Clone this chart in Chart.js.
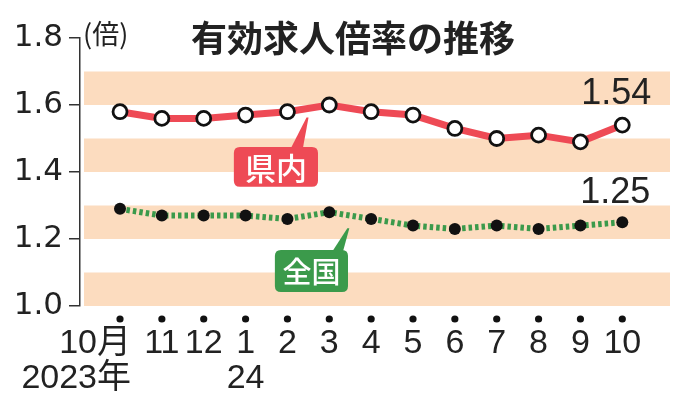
<!DOCTYPE html>
<html><head><meta charset="utf-8">
<script src="https://cdn.jsdelivr.net/npm/chart.js@4/dist/chart.umd.min.js"></script>
<style>html,body{margin:0;padding:0;background:#fff;overflow:hidden}canvas{display:block}</style>
</head><body>
<canvas id="c" width="684" height="400"></canvas>
<script>
// ---- data ----
const months = ['10月','11','12','1','2','3','4','5','6','7','8','9','10'];
const years  = ['2023年','','','24','','','','','','','','',''];
const prefecture = [1.58,1.56,1.56,1.57,1.58,1.60,1.58,1.57,1.53,1.50,1.51,1.49,1.54];
const national   = [1.29,1.27,1.27,1.27,1.26,1.28,1.26,1.24,1.23,1.24,1.23,1.24,1.25];
const seriesNames = ['県内','全国'];
const yMin = 1.0, yMax = 1.8;
const bands = [[1.0,1.1],[1.2,1.3],[1.4,1.5],[1.6,1.7]];
const titleText = '有効求人倍率の推移';
const unitText = '(倍)';

const RED = '#ee4a55', GREEN = '#3b9a4b', BAND = '#fcdcbf', INK = '#222';
const CJK = '"Noto Sans CJK JP"';

// callouts in data coordinates (index, value)
const callouts = [
  {text: seriesNames[0], color: RED, x0: 2.72, x1: 4.73, yTop: 1.475, yBot: 1.356,
   base0: 4.085, base1: 4.37, tipX: 4.48, tipY: 1.563, font: '500 31px ' + CJK},
  {text: seriesNames[1], color: GREEN, x0: 3.70, x1: 5.447, yTop: 1.167, yBot: 1.042,
   base0: 5.08, base1: 5.33, tipX: 5.455, tipY: 1.232, font: '500 29px ' + CJK}
];

function rr(ctx, x, y, w, h, r) {
  ctx.beginPath();
  ctx.moveTo(x + r, y);
  ctx.lineTo(x + w - r, y); ctx.quadraticCurveTo(x + w, y, x + w, y + r);
  ctx.lineTo(x + w, y + h - r); ctx.quadraticCurveTo(x + w, y + h, x + w - r, y + h);
  ctx.lineTo(x + r, y + h); ctx.quadraticCurveTo(x, y + h, x, y + h - r);
  ctx.lineTo(x, y + r); ctx.quadraticCurveTo(x, y, x + r, y);
  ctx.closePath();
}

const deco = {
  id: 'deco',
  beforeDatasetsDraw(chart) {
    const {ctx, chartArea: ca, scales: {y}} = chart;
    ctx.save();
    ctx.fillStyle = BAND;
    bands.forEach(([a, b]) => {
      const t = y.getPixelForValue(b), btm = y.getPixelForValue(a);
      ctx.fillRect(ca.left + 4, t, ca.right - ca.left - 4, btm - t);
    });
    ctx.restore();
  },
  afterDraw(chart) {
    const {ctx, chartArea: ca, scales: {x, y}} = chart;
    ctx.save();
    // title & unit
    ctx.fillStyle = INK;
    ctx.textBaseline = 'middle';
    ctx.textAlign = 'center';
    ctx.font = 'bold 36px ' + CJK;
    ctx.fillText(titleText, 353, 38);
    ctx.textAlign = 'left';
    ctx.font = '27px ' + CJK;
    ctx.fillText(unitText, 83, 34);

    // x dots and labels
    months.forEach((m, i) => {
      const px = x.getPixelForValue(i);
      ctx.beginPath();
      ctx.arc(px, 319, 3.6, 0, Math.PI * 2);
      ctx.fillStyle = '#111';
      ctx.fill();
      ctx.fillStyle = INK;
      ctx.font = '34px "Liberation Sans", Arial, ' + CJK;
      ctx.textBaseline = 'middle';
      if (i === 0) { ctx.textAlign = 'right'; ctx.fillText(m, px + 11, 344); if (years[i]) ctx.fillText(years[i], px + 11, 379); }
      else { ctx.textAlign = 'center'; ctx.fillText(m, px, 344); if (years[i]) ctx.fillText(years[i], px, 379); }
    });

    // value labels at last points
    ctx.font = '36px "Liberation Sans", Arial';
    ctx.textAlign = 'center';
    ctx.fillStyle = INK;
    const m0 = chart.getDatasetMeta(0).data, m1 = chart.getDatasetMeta(1).data;
    const p0 = m0[m0.length - 1], p1 = m1[m1.length - 1];
    ctx.fillText(prefecture[prefecture.length - 1].toFixed(2), p0.x - 6, p0.y - 31);
    ctx.fillText(national[national.length - 1].toFixed(2), p1.x - 7, p1.y - 29);

    // callouts
    callouts.forEach(c => {
      const L = x.getPixelForValue(c.x0), R = x.getPixelForValue(c.x1);
      const T = y.getPixelForValue(c.yTop), B = y.getPixelForValue(c.yBot);
      ctx.fillStyle = c.color;
      rr(ctx, L, T, R - L, B - T, 6);
      ctx.fill();
      ctx.beginPath();
      ctx.moveTo(x.getPixelForValue(c.base0), T + 1);
      ctx.lineTo(x.getPixelForValue(c.tipX) - 1, y.getPixelForValue(c.tipY));
      ctx.lineTo(x.getPixelForValue(c.tipX) + 1, y.getPixelForValue(c.tipY));
      ctx.lineTo(x.getPixelForValue(c.base1), T + 1);
      ctx.closePath();
      ctx.fill();
      ctx.fillStyle = '#fff';
      ctx.font = c.font;
      ctx.textAlign = 'center';
      ctx.textBaseline = 'middle';
      ctx.fillText(c.text, (L + R) / 2, (T + B) / 2 + 1);
    });
    ctx.restore();
  }
};

new Chart(document.getElementById('c'), {
  type: 'line',
  data: {
    datasets: [
      {label: seriesNames[0], data: prefecture.map((v, i) => ({x: i, y: v})),
       borderColor: RED, borderWidth: 7, pointRadius: 7, pointBorderWidth: 2.8,
       pointBackgroundColor: '#fff', pointBorderColor: '#111', tension: 0},
      {label: seriesNames[1], data: national.map((v, i) => ({x: i, y: v})),
       borderColor: GREEN, borderWidth: 6, borderDash: [3.5, 3], pointRadius: 6, pointBorderWidth: 0,
       pointBackgroundColor: '#111', pointBorderColor: '#111', tension: 0}
    ]
  },
  options: {
    responsive: false, animation: false, devicePixelRatio: 1,
    layout: {padding: {top: 38, right: 14, bottom: 0, left: 0}},
    plugins: {legend: {display: false}, tooltip: {enabled: false}, title: {display: false}},
    scales: {
      x: {type: 'linear', min: -0.956, max: 13.14,
          grid: {display: false}, border: {display: false},
          ticks: {display: false, includeBounds: false},
          afterBuildTicks: s => { s.ticks = months.map((_, i) => ({value: i})); },
          afterFit: s => { s.height = 94; }},
      y: {min: yMin, max: yMax,
          grid: {drawOnChartArea: false, drawTicks: true, tickLength: 11, color: '#333', lineWidth: 1.5},
          border: {display: true, color: '#333', width: 1.5},
          ticks: {stepSize: 0.1, padding: 6, color: INK, font: {family: 'DejaVu Sans', size: 31},
                  callback: v => (Math.round(v * 10) % 2 === 0 ? v.toFixed(1) : '')},
          afterFit: s => { s.width = 80; }}
    }
  },
  plugins: [deco]
});
</script>
</body></html>
